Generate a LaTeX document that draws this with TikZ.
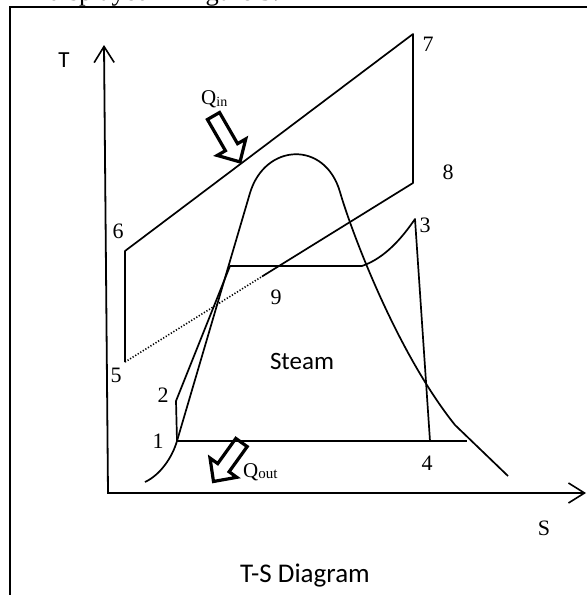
\documentclass[tikz,border=0pt]{standalone}
\usepackage{fontspec}
\setmainfont{Liberation Serif}
\newfontfamily\calib{Carlito}
\usetikzlibrary{arrows.meta}
\begin{document}
\begin{tikzpicture}[x=1pt,y=-1pt,
  curve/.style={line width=1.7pt, line join=round},
  axes/.style={line width=1.8pt, line join=miter,
    {Straight Barb[length=16pt,width=20pt,line width=1.6pt]}-{Straight Barb[length=16pt,width=20pt,line width=1.6pt]}},
  frameline/.style={line width=1.6pt},
  dotline/.style={line width=1.6pt, dash pattern=on 1.2pt off 1.8pt},
  num/.style={font=\fontsize{22}{22}\selectfont, inner sep=0pt},
  sans/.style={font=\calib\fontsize{25}{25}\selectfont, inner sep=0pt},
  blockarrow/.pic={\draw[line width=3.2pt, line join=miter]
     (0,-7) -- (#1,-7) -- (#1,-16.5) -- (#1+17,0) -- (#1,16.5) -- (#1,7) -- (0,7) -- cycle;}
]
\useasboundingbox (0,0) rectangle (587,595);

% frame and clipped text above
\draw[frameline] (10,595) -- (10,7) -- (587,7);
\node[anchor=base west, inner sep=0pt, font=\fontsize{26.5}{26.5}\selectfont] (toptext) at (48,0.5) {displayed in Figure 3.};

% points
\coordinate (p1) at (177,441);
\coordinate (p2) at (176,401);
\coordinate (p3) at (415,219);
\coordinate (p4) at (430,441);
\coordinate (p5) at (125,362);
\coordinate (p6) at (125,251);
\coordinate (p7) at (413,34);
\coordinate (p8) at (413,183);
\coordinate (p9) at (262,276.5);
\coordinate (fa) at (230,266);
\coordinate (fb) at (362,266);
\coordinate (e1) at (467,441);
\coordinate (o) at (108,493);
\coordinate (tT) at (104,45);
\coordinate (tS) at (586,493);

% axes
\draw[axes] (tT) -- (o) -- (tS);

% saturation dome
\draw[curve] (145,482) .. controls (160,475) and (172,458) .. (p1)
  -- (250,193) .. controls (265,143) and (325,140) .. (340,192)
  .. controls (350,227) and (395,350) .. (455,425) -- (508,476);

% steam (Rankine) cycle
\draw[curve] (p1) -- (p2) -- (fa) -- (fb) .. controls (385,258) and (402,238) .. (p3) -- (p4);
\draw[curve] (p1) -- (e1);

% gas (Brayton) cycle
\draw[curve] (p9) -- (p8) -- (p7) -- (p6) -- (p5);
\draw[dotline] (p5) -- (p9);

% heat arrows
\pic[rotate=-60] at (213.5,116) {blockarrow=36};
\pic[rotate=-125.7] at (241.5,442.5) {blockarrow=31};

% labels
\node[num] (l1) at (158,441) {1};
\node[num] (l2) at (163,395) {2};
\node[num] (l3) at (425,225) {3};
\node[num] (l4) at (427,463) {4};
\node[num] (l5) at (116,375) {5};
\node[num] (l6) at (118,231) {6};
\node[num] (l7) at (428,44) {7};
\node[num] (l8) at (448,172) {8};
\node[num] (l9) at (276,297) {9};
\node[num] (lS) at (544,528) {S};
\node[sans, font=\calib\fontsize{23}{23}\selectfont] (lT) at (64,60) {T};
\node[sans] (steam) at (302,361) {Steam};
\node[sans, font=\calib\fontsize{27}{27}\selectfont] (title) at (305,576) {T-S Diagram};
\node[anchor=base west, inner sep=0pt, font=\fontsize{21}{21}\selectfont] (qin) at (201,104)
  {Q\raisebox{-2pt}{\fontsize{14}{14}\selectfont in}};
\node[anchor=base west, inner sep=0pt, font=\fontsize{21}{21}\selectfont] (qout) at (243,477)
  {Q\raisebox{-1pt}{\fontsize{15}{15}\selectfont out}};
\end{tikzpicture}
\end{document}
